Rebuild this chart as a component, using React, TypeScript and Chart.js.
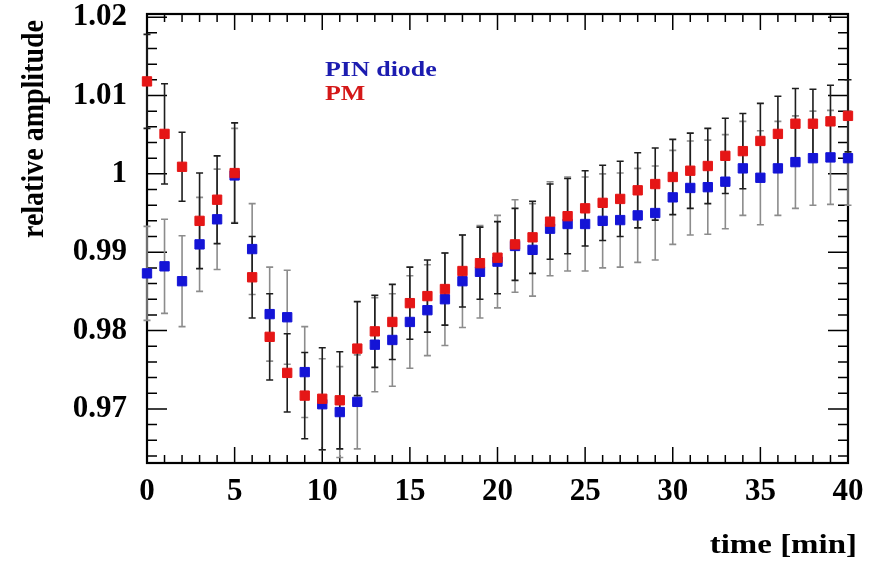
import { useEffect, useRef } from 'react';
import { Chart, registerables } from 'chart.js';

Chart.register(...registerables);

const times = [0, 1, 2, 3, 4, 5, 6, 7, 8, 9, 10, 11, 12, 13, 14, 15, 16, 17, 18, 19, 20, 21, 22, 23, 24, 25, 26, 27, 28, 29, 30, 31, 32, 33, 34, 35, 36, 37, 38, 39, 40];

const pinValues = [
  0.9873, 0.9882, 0.9863, 0.991, 0.9942, 0.9998, 0.9904, 0.9821, 0.9817, 0.9747,
  0.9706, 0.9696, 0.9709, 0.9782, 0.9788, 0.9811, 0.9826, 0.984, 0.9863, 0.9875,
  0.9888, 0.9908, 0.9903, 0.993, 0.9936, 0.9936, 0.994, 0.9941, 0.9947, 0.995,
  0.997, 0.9982, 0.9983, 0.999, 1.0007, 0.9995, 1.0007, 1.0015, 1.002, 1.0021, 1.002,
];

const pmValues = [
  1.0118, 1.0051, 1.0009, 0.994, 0.9967, 1.0001, 0.9868, 0.9792, 0.9746, 0.9717,
  0.9713, 0.9711, 0.9777, 0.9799, 0.9811, 0.9835, 0.9844, 0.9853, 0.9876, 0.9886,
  0.9893, 0.991, 0.9919, 0.9939, 0.9946, 0.9956, 0.9963, 0.9968, 0.9979, 0.9987,
  0.9996, 1.0004, 1.001, 1.0023, 1.0029, 1.0042, 1.0051, 1.0064, 1.0064, 1.0067, 1.0074,
];

const pinErrors = [
  0.006, 0.006, 0.0058, 0.006, 0.0064, 0.006, 0.0058, 0.006, 0.006, 0.0058,
  0.0058, 0.0058, 0.006, 0.006, 0.0059, 0.0059, 0.0058, 0.0059, 0.0059, 0.0059,
  0.0059, 0.0059, 0.0059, 0.006, 0.006, 0.006, 0.006, 0.006, 0.006, 0.006,
  0.006, 0.006, 0.006, 0.006, 0.006, 0.006, 0.006, 0.0059, 0.006, 0.006, 0.006,
];

const pmErrors = [
  0.006, 0.0064, 0.0044, 0.0061, 0.0056, 0.0064, 0.0052, 0.0055, 0.005, 0.0055,
  0.0065, 0.0062, 0.006, 0.0046, 0.0048, 0.0046, 0.0046, 0.0046, 0.0046, 0.0046,
  0.0046, 0.0046, 0.0046, 0.0048, 0.0048, 0.0048, 0.0048, 0.0048, 0.0048, 0.0046,
  0.0048, 0.0048, 0.0048, 0.0048, 0.0048, 0.0048, 0.0048, 0.0045, 0.0044, 0.0046, 0.0046,
];

const yTickValues = [0.97, 0.98, 0.99, 1.0, 1.01, 1.02];
const yTickLabels = ['0.97', '0.98', '0.99', '1', '1.01', '1.02'];
const xTickValues = [0, 5, 10, 15, 20, 25, 30, 35, 40];
const xTickLabels = ['0', '5', '10', '15', '20', '25', '30', '35', '40'];
const seriesNames = ['PIN diode', 'PM'];
const xTitle = 'time [min]';
const yTitle = 'relative amplitude';

const FONT = '"Liberation Serif", "Times New Roman", serif';
const PIN_COLOR = '#1414d6';
const PM_COLOR = '#e51616';

const errorBarPlugin = {
  id: 'errorBars',
  beforeDatasetsDraw(chart: any) {
    const { ctx, scales } = chart;
    const xs = scales.x;
    const ys = scales.y;
    const sets = [
      { vals: pinValues, errs: pinErrors, color: '#8c8c8c' },
      { vals: pmValues, errs: pmErrors, color: '#1e1e1e' },
    ];
    ctx.save();
    ctx.lineWidth = 1.6;
    for (const s of sets) {
      ctx.strokeStyle = s.color;
      for (let i = 0; i < times.length; i++) {
        const px = xs.getPixelForValue(times[i]);
        const yTop = ys.getPixelForValue(s.vals[i] + s.errs[i]);
        const yBot = ys.getPixelForValue(s.vals[i] - s.errs[i]);
        ctx.beginPath();
        ctx.moveTo(px, yTop);
        ctx.lineTo(px, yBot);
        ctx.moveTo(px - 3.5, yTop);
        ctx.lineTo(px + 3.5, yTop);
        ctx.moveTo(px - 3.5, yBot);
        ctx.lineTo(px + 3.5, yBot);
        ctx.stroke();
      }
    }
    ctx.restore();
  },
};

const framePlugin = {
  id: 'rootFrame',
  beforeDatasetsDraw(chart: any) {
    const { ctx, chartArea, scales } = chart;
    const { left, right, top, bottom } = chartArea;
    const xs = scales.x;
    const ys = scales.y;
    ctx.save();
    ctx.strokeStyle = '#000';
    ctx.lineWidth = 1.5;
    ctx.beginPath();
    for (let k = Math.ceil(xs.min); k <= xs.max; k++) {
      const px = xs.getPixelForValue(k);
      const len = k % 5 === 0 ? 16 : 8;
      ctx.moveTo(px, bottom);
      ctx.lineTo(px, bottom - len);
      ctx.moveTo(px, top);
      ctx.lineTo(px, top + len);
    }
    for (let k = Math.ceil(ys.min / 0.002 - 1e-6); k * 0.002 <= ys.max + 1e-9; k++) {
      const v = k * 0.002;
      const py = ys.getPixelForValue(v);
      const len = k % 5 === 0 ? 20 : 10;
      ctx.moveTo(left, py);
      ctx.lineTo(left + len, py);
      ctx.moveTo(right, py);
      ctx.lineTo(right - len, py);
    }
    ctx.stroke();
    ctx.lineWidth = 2.2;
    ctx.strokeRect(left, top, right - left, bottom - top);
    ctx.restore();
  },
};

const textPlugin = {
  id: 'rootText',
  afterDraw(chart: any) {
    const { ctx } = chart;
    ctx.save();
    ctx.font = `bold 22px ${FONT}`;
    ctx.textAlign = 'left';
    ctx.textBaseline = 'alphabetic';
    ctx.save();
    ctx.translate(325, 76);
    ctx.scale(1.18, 1);
    ctx.fillStyle = '#1c1cb0';
    ctx.fillText(seriesNames[0], 0, 0);
    ctx.restore();
    ctx.save();
    ctx.translate(325, 100);
    ctx.scale(1.18, 1);
    ctx.fillStyle = '#d41818';
    ctx.fillText(seriesNames[1], 0, 0);
    ctx.restore();

    ctx.save();
    ctx.font = `bold 27px ${FONT}`;
    ctx.fillStyle = '#000';
    ctx.textAlign = 'right';
    ctx.translate(857, 553);
    ctx.scale(1.22, 1);
    ctx.fillText(xTitle, 0, 0);
    ctx.restore();

    ctx.save();
    ctx.font = `bold 28px ${FONT}`;
    ctx.fillStyle = '#000';
    ctx.textAlign = 'center';
    ctx.translate(43, 129);
    ctx.scale(1.15, 1);
    ctx.rotate(-Math.PI / 2);
    ctx.fillText(yTitle, 0, 0);
    ctx.restore();
    ctx.restore();
  },
};

export default function App() {
  const canvasRef = useRef<HTMLCanvasElement | null>(null);

  useEffect(() => {
    if (!canvasRef.current) return;
    const chart = new Chart(canvasRef.current, {
      type: 'scatter',
      data: {
        datasets: [
          {
            label: seriesNames[1],
            data: times.map((t, i) => ({ x: t, y: pmValues[i] })),
            backgroundColor: PM_COLOR,
            borderColor: PM_COLOR,
            pointStyle: 'rect',
            pointRadius: 6.6,
            pointBorderWidth: 1,
            clip: false,
            order: 0,
          },
          {
            label: seriesNames[0],
            data: times.map((t, i) => ({ x: t, y: pinValues[i] })),
            backgroundColor: PIN_COLOR,
            borderColor: PIN_COLOR,
            pointStyle: 'rect',
            pointRadius: 6.6,
            pointBorderWidth: 1,
            clip: false,
            order: 1,
          },
        ],
      },
      options: {
        animation: false,
        responsive: true,
        maintainAspectRatio: false,
        layout: { padding: { top: 14, right: 28, bottom: 0, left: 0 } },
        plugins: {
          legend: { display: false },
          tooltip: { enabled: false },
        },
        scales: {
          x: {
            type: 'linear',
            position: 'bottom',
            min: 0,
            max: 40,
            grid: { display: false, drawTicks: false },
            border: { display: false },
            afterBuildTicks: (scale: any) => {
              scale.ticks = xTickValues.map((v) => ({ value: v }));
            },
            afterFit: (scale: any) => {
              scale.height = 98;
              scale.paddingLeft = 0;
              scale.paddingRight = 0;
              scale.paddingTop = 0;
              scale.paddingBottom = 0;
            },
            ticks: {
              autoSkip: false,
              maxRotation: 0,
              padding: 10,
              color: '#000',
              font: { family: FONT, size: 31, weight: 'bold' },
              callback: (_v: any, i: number) => xTickLabels[i],
            },
          },
          y: {
            type: 'linear',
            position: 'left',
            min: 0.9631,
            max: 1.0204,
            grid: { display: false, drawTicks: false },
            border: { display: false },
            afterBuildTicks: (scale: any) => {
              scale.ticks = yTickValues.map((v) => ({ value: v }));
            },
            afterFit: (scale: any) => {
              scale.width = 147;
              scale.paddingLeft = 0;
              scale.paddingRight = 0;
              scale.paddingTop = 0;
              scale.paddingBottom = 0;
            },
            ticks: {
              autoSkip: false,
              padding: 20,
              color: '#000',
              font: { family: FONT, size: 31, weight: 'bold' },
              callback: (_v: any, i: number) => yTickLabels[i],
            },
          },
        },
      },
      plugins: [framePlugin, errorBarPlugin, textPlugin],
    } as any);
    return () => chart.destroy();
  }, []);

  return (
    <div style={{ position: 'absolute', left: 0, top: 0, width: 876, height: 561, background: '#fff' }}>
      <canvas ref={canvasRef} />
    </div>
  );
}
